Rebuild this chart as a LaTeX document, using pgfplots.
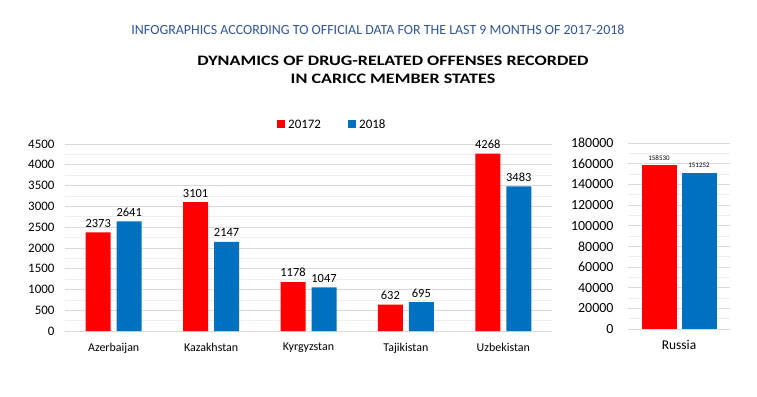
\documentclass[border=0pt]{standalone}
\usepackage{graphicx}
\usepackage{pgfplots}
\pgfplotsset{compat=1.18}
\usepackage{fontspec}
\setmainfont{Carlito}
\definecolor{barred}{HTML}{FF0000}
\definecolor{barblue}{HTML}{0070C0}
\definecolor{titleblue}{HTML}{2F5597}
\definecolor{gridc}{HTML}{D9D9D9}
\definecolor{minorc}{HTML}{EEEEEE}
\pgfkeys{/pgf/number format/.cd, fixed, precision=0, 1000 sep={}, assume math mode=true}
\begin{document}
\begin{tikzpicture}
\useasboundingbox (0bp,0bp) rectangle (757bp,-397bp);
\node[font=\fontsize{14}{16}\selectfont, text=titleblue] at (378bp,-30bp) {INFOGRAPHICS ACCORDING TO OFFICIAL DATA FOR THE LAST 9 MONTHS OF 2017-2018};
\node[font=\fontsize{14.5}{16}\selectfont\bfseries] at (393bp,-61bp) {\scalebox{1.25}[1]{DYNAMICS OF DRUG-RELATED OFFENSES RECORDED}};
\node[font=\fontsize{14.5}{16}\selectfont\bfseries] at (393bp,-79bp) {\scalebox{1.25}[1]{IN CARICC MEMBER STATES}};
% legend
\fill[barred] (277bp,-120bp) rectangle (285bp,-128bp);
\node[anchor=west, font=\fontsize{13}{15}\selectfont, inner sep=0pt] at (288bp,-124bp) {20172};
\fill[barblue] (348bp,-120bp) rectangle (356bp,-128bp);
\node[anchor=west, font=\fontsize{13}{15}\selectfont, inner sep=0pt] at (359bp,-124bp) {2018};
\begin{axis}[
  at={(65bp,-331bp)}, anchor=south west,
  scale only axis, width=487bp, height=187bp,
  ybar=6bp, bar width=25bp,
  xmin=-0.5, xmax=4.5, ymin=0, ymax=4500,
  xtick=data, xticklabels={Azerbaijan,Kazakhstan,Kyrgyzstan,Tajikistan,Uzbekistan},
  ytick={0,500,...,4500},
  minor y tick num=1,
  ymajorgrids, yminorgrids,
  major grid style={gridc, line width=0.7pt},
  minor grid style={minorc, line width=0.5pt},
  separate axis lines,
  axis x line*=bottom, axis y line*=left,
  y axis line style={draw=none},
  x axis line style={gridc, line width=1pt, -},
  xtick style={draw=none}, ytick style={draw=none},
  yticklabel style={font=\fontsize{13}{15}\selectfont, xshift=-7bp},
  xticklabel style={font=\fontsize{12}{14}\selectfont, yshift=-4bp},
  scaled y ticks=false,
  nodes near coords={\pgfmathprintnumber[fixed,precision=0,1000 sep={},assume math mode=true]{\pgfplotspointmeta}},
  every node near coord/.append style={font=\fontsize{12.5}{14}\selectfont, text=black, yshift=1.5bp},
  clip=false,
]
\addplot[fill=barred, draw=none] coordinates {(0,2373) (1,3101) (2,1178) (3,632) (4,4268)};
\addplot[fill=barblue, draw=none] coordinates {(0,2641) (1,2147) (2,1047) (3,695) (4,3483)};
\end{axis}
\begin{axis}[
  at={(628bp,-329bp)}, anchor=south west,
  scale only axis, width=102bp, height=186bp,
  ybar=5bp, bar width=35bp,
  xmin=-0.5, xmax=0.5, ymin=0, ymax=180000,
  xtick=data, xticklabels={Russia},
  ytick={0,20000,...,180000},
  yticklabels={0,20000,40000,60000,80000,100000,120000,140000,160000,180000},
  scaled y ticks=false,
  minor y tick num=1,
  ymajorgrids, yminorgrids,
  major grid style={gridc, line width=0.7pt},
  minor grid style={minorc, line width=0.5pt},
  separate axis lines,
  axis x line*=bottom, axis y line*=left,
  y axis line style={draw=none},
  x axis line style={gridc, line width=1pt, -},
  xtick style={draw=none}, ytick style={draw=none},
  yticklabel style={font=\fontsize{14}{16}\selectfont, xshift=-11bp},
  xticklabel style={font=\fontsize{13.5}{15}\selectfont, yshift=-3bp},
  nodes near coords={\pgfmathprintnumber[fixed,precision=0,1000 sep={},assume math mode=true]{\pgfplotspointmeta}},
  every node near coord/.append style={font=\fontsize{7}{9}\selectfont, text=black, yshift=1.5bp},
  clip=false,
]
\addplot[fill=barred, draw=none] coordinates {(0,158530)};
\addplot[fill=barblue, draw=none] coordinates {(0,151252)};
\end{axis}
\end{tikzpicture}
\end{document}
